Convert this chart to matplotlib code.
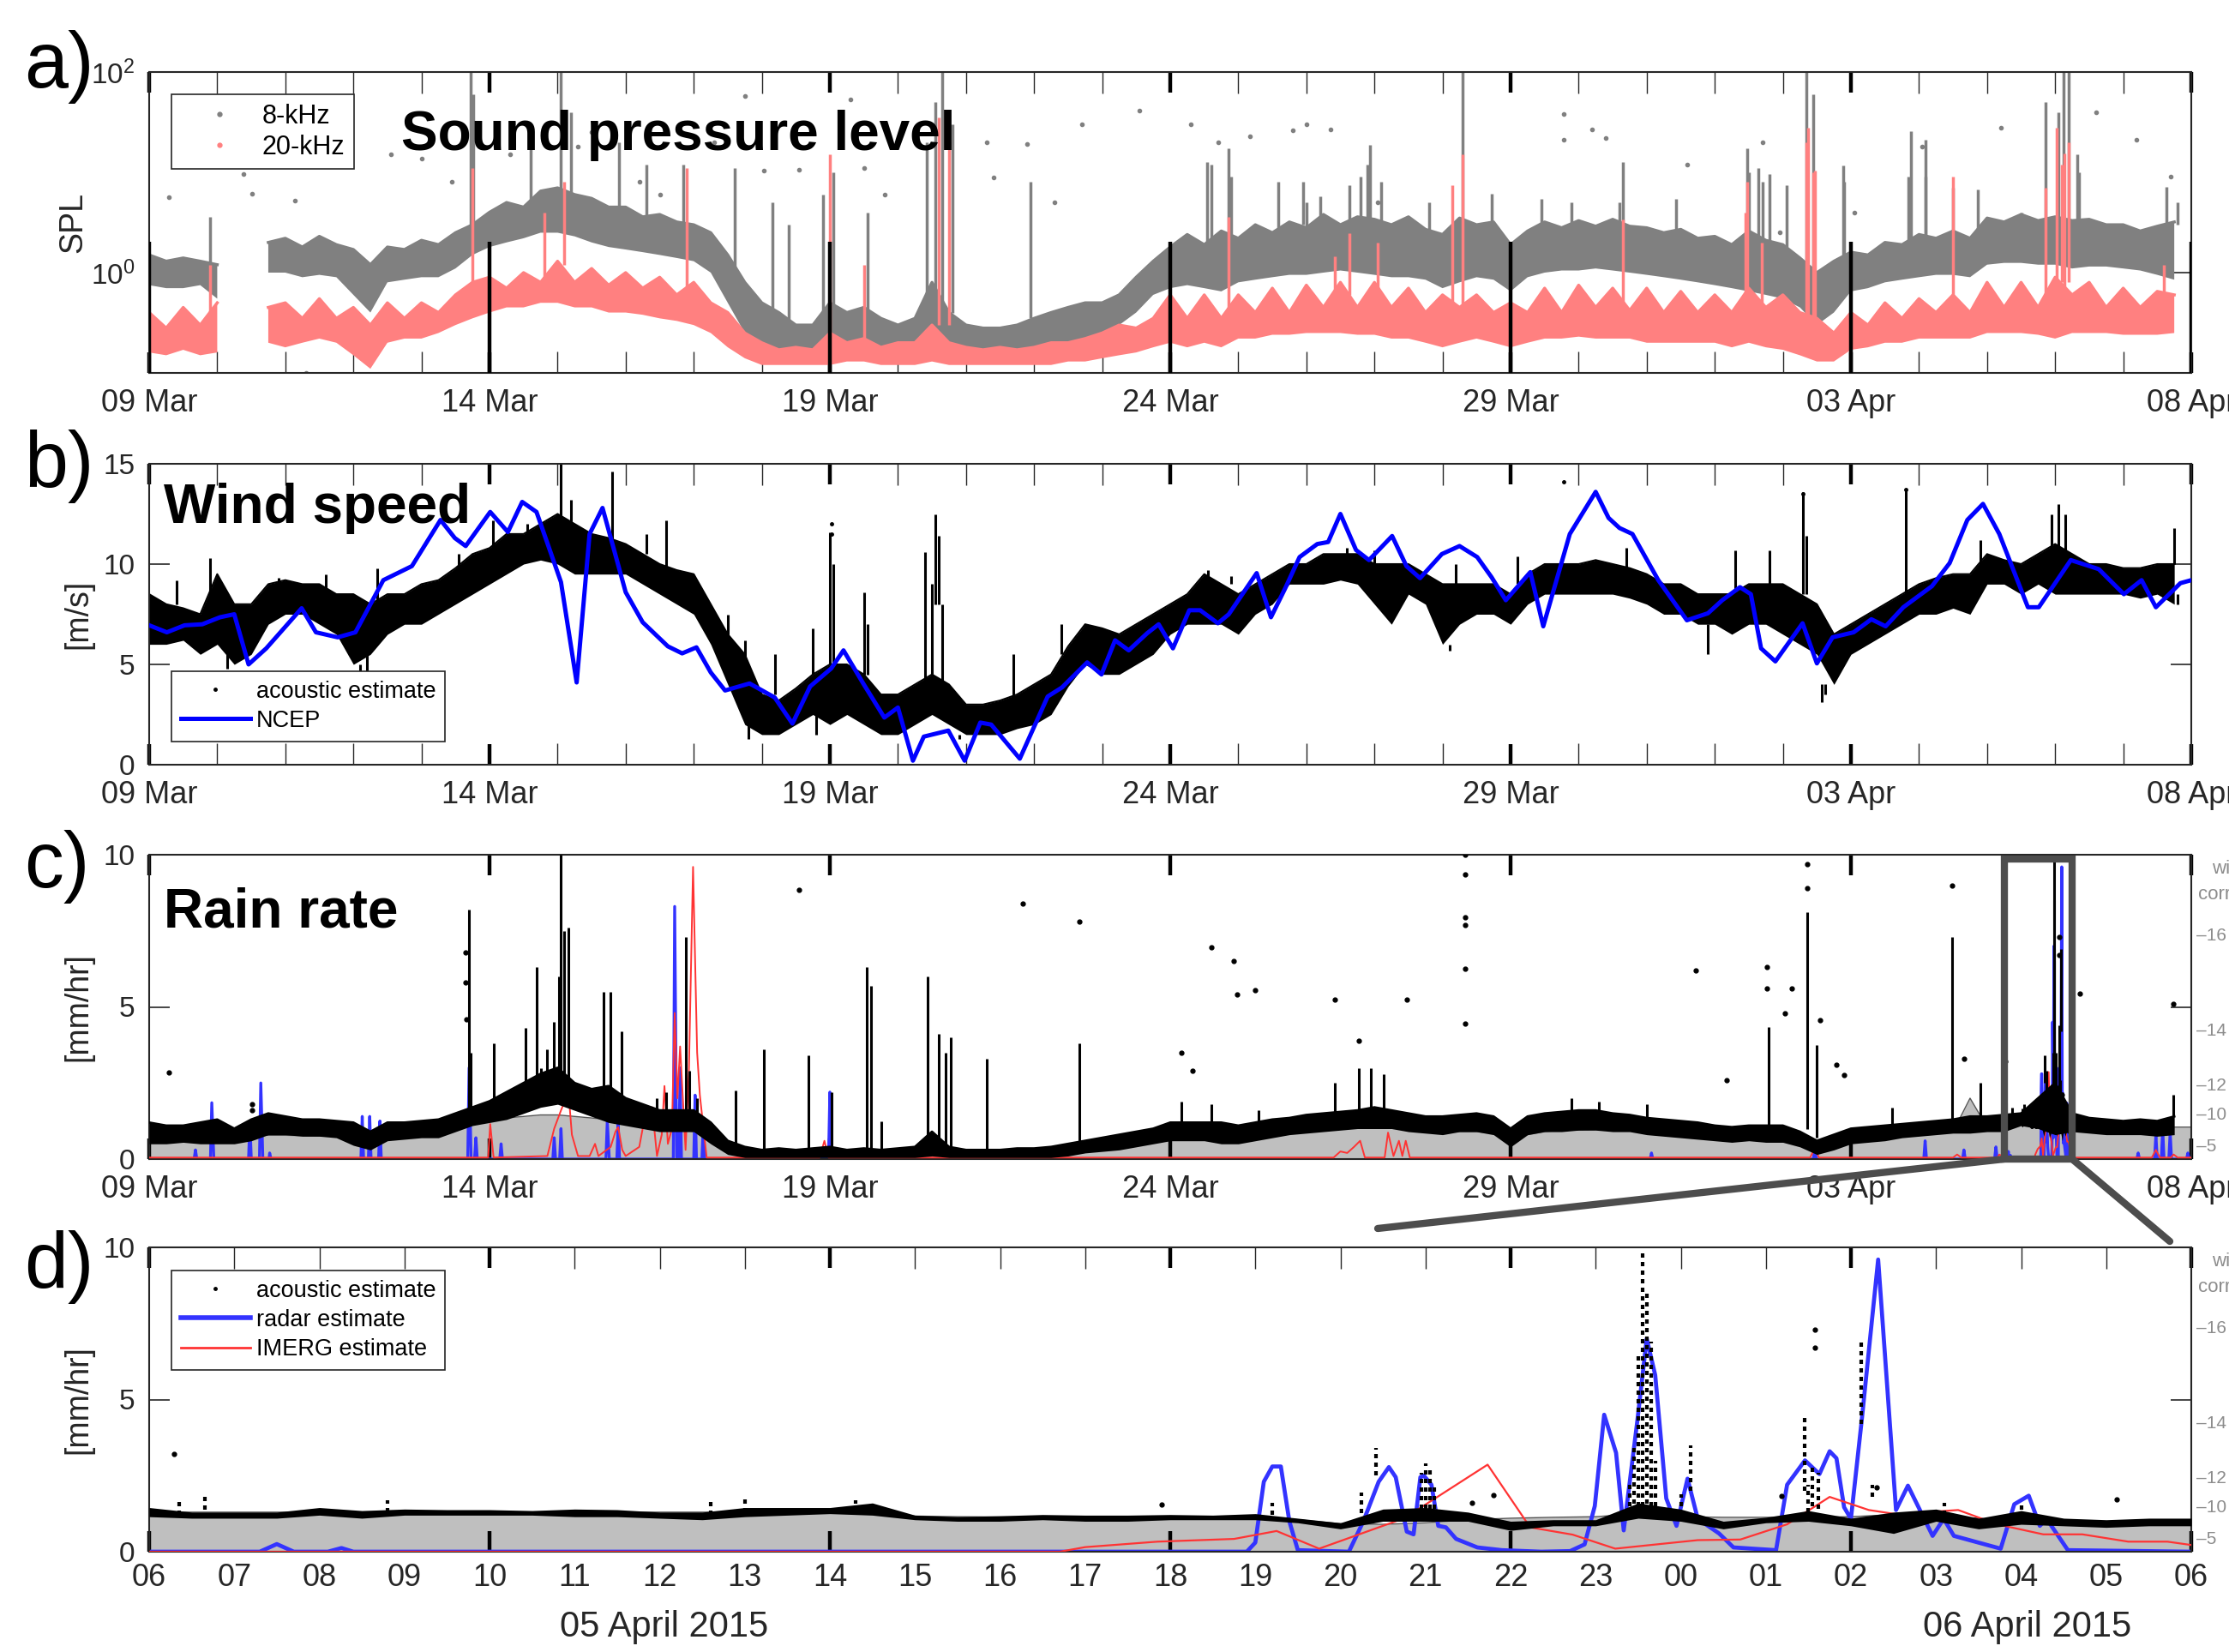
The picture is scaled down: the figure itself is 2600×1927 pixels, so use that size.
import numpy as np
import pandas as pd
import matplotlib
matplotlib.use("Agg")
import matplotlib.pyplot as plt
import matplotlib.dates as mdates
import matplotlib.transforms as mtransforms
from matplotlib.lines import Line2D
from matplotlib.patches import Rectangle, ConnectionPatch
from matplotlib.ticker import FixedLocator, NullLocator

plt.rcParams['font.family'] = ['Liberation Sans', 'DejaVu Sans']
plt.rcParams['mathtext.fontset'] = 'custom'
plt.rcParams['mathtext.rm'] = 'Liberation Sans'
plt.rcParams['mathtext.it'] = 'Liberation Sans:italic'
plt.rcParams['mathtext.bf'] = 'Liberation Sans:bold'

nan = np.nan
T0 = np.datetime64("2015-03-09T00:00")
D0 = np.datetime64("2015-04-05T06:00")


def day_time(d):
    return T0 + (np.asarray(d, dtype=float) * 86400).astype("timedelta64[s]")


def hour_time(h):
    return D0 + (np.asarray(h, dtype=float) * 3600).astype("timedelta64[s]")


# 6-hourly grid 09 Mar - 08 Apr, half-hourly grid for the zoom panel
t6 = pd.date_range("2015-03-09", "2015-04-08", freq="6h").to_numpy()
t30 = pd.date_range("2015-04-05 06:00", "2015-04-06 06:00", freq="30min").to_numpy()

# ======================
# a) sound pressure level (band envelopes, 6-hourly)
# ======================
spl8_lo = [0.75, 0.7, 0.7, 0.75,
           0.55, nan, nan, 1.0,
           1.0, 0.9, 0.95, 0.9,
           0.6, 0.4, 0.8, 0.85,
           0.9, 0.9, 1.1, 1.5,
           1.8, 2.0, 2.2, 2.5,
           2.5, 2.3, 2.0, 1.8,
           1.7, 1.6, 1.5, 1.4,
           1.3, 1.0, 0.5, 0.25,
           0.18, 0.15, 0.13, 0.13,
           0.13, 0.15, 0.15, 0.15,
           0.13, 0.14, 0.2, 0.15,
           0.14, 0.13, 0.13, 0.14,
           0.14, 0.15, 0.15, 0.2,
           0.2, 0.3, 0.4, 0.6,
           0.7, 0.75, 0.7, 0.65,
           0.8, 0.85, 0.9, 0.95,
           0.95, 1.0, 1.05, 1.0,
           0.95, 0.9, 0.9, 0.85,
           0.7, 0.8, 0.9, 0.85,
           0.65, 0.9, 1.0, 1.05,
           1.05, 1.1, 1.05, 1.0,
           0.95, 0.9, 0.85, 0.8,
           0.75, 0.7, 0.65, 0.6,
           0.55, 0.45, 0.3, 0.4,
           0.65, 0.7, 0.8, 0.85,
           0.9, 0.95, 0.95, 0.9,
           1.2, 1.25, 1.25, 1.2,
           1.2, 1.1, 1.15, 1.15,
           1.1, 1.05, 0.95, 0.85,
           nan]
spl8_hi = [1.5, 1.3, 1.4, 1.3,
           1.2, nan, nan, 2.0,
           2.2, 1.8, 2.3, 1.9,
           1.7, 1.2, 1.8, 1.7,
           2.1, 1.9, 2.5, 3.0,
           4.0, 5.0, 4.5, 6.5,
           7.0, 6.0, 5.5, 4.5,
           4.5, 3.6, 3.8, 3.2,
           3.0, 2.5, 1.5, 0.8,
           0.5, 0.4, 0.3, 0.3,
           0.5, 0.4, 0.45, 0.35,
           0.3, 0.35, 0.8, 0.4,
           0.3, 0.28, 0.28, 0.3,
           0.35, 0.4, 0.45, 0.5,
           0.5, 0.6, 0.9, 1.3,
           1.8, 2.4, 1.9, 2.6,
           2.2, 3.0, 2.5, 3.2,
           2.8, 3.8, 3.0, 3.6,
           3.4, 3.0, 3.6, 2.7,
           2.4, 3.5, 3.0, 3.2,
           1.9, 2.6, 3.2, 2.8,
           3.3, 2.9, 3.4, 2.9,
           2.8, 2.5, 2.7, 2.2,
           2.3, 1.9, 2.6, 2.1,
           1.9, 1.4, 1.0, 1.3,
           1.6, 1.5, 2.0, 1.9,
           2.4, 2.2, 2.6, 2.2,
           3.5, 3.2, 3.8, 3.3,
           3.6, 3.3, 3.4, 3.0,
           3.0, 2.6, 2.9, 3.2,
           nan]
spl20_lo = [0.16, 0.15, 0.17, 0.15,
            0.16, nan, nan, 0.2,
            0.18, 0.2, 0.22, 0.2,
            0.15, 0.11, 0.2, 0.22,
            0.22, 0.25, 0.3, 0.35,
            0.4, 0.45, 0.45, 0.5,
            0.5, 0.45, 0.45, 0.4,
            0.4, 0.38, 0.35, 0.33,
            0.3, 0.25, 0.18, 0.14,
            0.12, 0.12, 0.12, 0.12,
            0.12, 0.13, 0.13, 0.12,
            0.12, 0.12, 0.13, 0.12,
            0.12, 0.12, 0.12, 0.12,
            0.12, 0.12, 0.13, 0.13,
            0.14, 0.15, 0.16, 0.18,
            0.2, 0.18, 0.2, 0.18,
            0.22, 0.22, 0.24, 0.24,
            0.25, 0.25, 0.25, 0.24,
            0.24, 0.22, 0.22, 0.2,
            0.18, 0.2, 0.22, 0.2,
            0.18, 0.2, 0.22, 0.22,
            0.23, 0.22, 0.22, 0.22,
            0.2, 0.2, 0.2, 0.2,
            0.2, 0.18, 0.2, 0.18,
            0.17, 0.15, 0.13, 0.13,
            0.17, 0.18, 0.2, 0.2,
            0.22, 0.22, 0.22, 0.22,
            0.25, 0.25, 0.25, 0.24,
            0.22, 0.25, 0.25, 0.25,
            0.24, 0.24, 0.24, 0.25,
            nan]
spl20_hi = [0.4, 0.28, 0.45, 0.3,
            0.5, nan, nan, 0.45,
            0.5, 0.35, 0.55, 0.35,
            0.45, 0.3, 0.5, 0.35,
            0.5, 0.4, 0.6, 0.8,
            0.9, 0.7, 1.0, 0.8,
            1.3, 0.8, 1.1, 0.75,
            1.0, 0.7, 0.9, 0.6,
            0.8, 0.5, 0.4, 0.25,
            0.2, 0.17, 0.18, 0.17,
            0.25, 0.2, 0.22, 0.18,
            0.2, 0.2, 0.3, 0.2,
            0.18, 0.17, 0.18, 0.17,
            0.18, 0.2, 0.2, 0.22,
            0.25, 0.3, 0.28, 0.35,
            0.6, 0.35, 0.6, 0.35,
            0.6, 0.4, 0.7, 0.4,
            0.75, 0.45, 0.8, 0.45,
            0.8, 0.45, 0.7, 0.4,
            0.6, 0.45, 0.6, 0.4,
            0.5, 0.4, 0.7, 0.4,
            0.75, 0.45, 0.7, 0.42,
            0.7, 0.4, 0.65, 0.4,
            0.6, 0.4, 0.7, 0.45,
            0.6, 0.4, 0.35, 0.25,
            0.4, 0.3, 0.5, 0.35,
            0.55, 0.4, 0.6, 0.4,
            0.8, 0.45, 0.8, 0.45,
            0.9, 0.6, 0.8, 0.45,
            0.7, 0.45, 0.65, 0.6,
            nan]

# spikes: day, bottom, top
spl8_spk_d = [0.9, 4.72, 4.76, 5.6, 6.05, 6.2, 6.9, 7.3, 7.85, 8.6, 9.15, 9.4, 9.9, 10.05, 10.55,
              11.42, 11.55, 11.65, 11.8, 12.95, 15.6, 15.9, 17.0, 17.9, 18.1, 18.8, 19.3, 20.9,
              21.6, 23.5, 23.7, 24.35, 24.45, 24.9, 25.85, 26.1, 27.5, 28.05, 28.12, 28.2, 28.35,
              29.8, 15.54, 15.86, 16.59, 16.95, 17.2, 17.63, 17.8, 17.94, 18.47, 19.72, 20.45,
              21.65, 22.43, 23.48, 23.64, 23.8, 24.05, 24.89, 25.88, 26.09, 26.5, 26.87, 27.86,
              28.33, 29.64]
spl8_spk_lo = [1.2, 2.0, 2.0, 4.0, 5.0, 5.0, 4.0, 3.5, 3.0, 0.8, 0.4, 0.3, 0.4, 0.4, 0.4,
               0.4, 0.4, 0.4, 0.4, 0.35, 1.8, 1.9, 2.6, 3.0, 3.0, 2.5, 2.8, 2.8,
               2.8, 2.2, 2.0, 1.0, 1.0, 1.3, 1.9, 2.1, 3.4, 3.3, 3.3, 3.3, 3.0,
               3.0, 2.0, 2.0, 2.5, 3.0, 3.0, 3.0, 3.0, 3.0, 2.8, 2.8, 2.8,
               2.8, 2.5, 2.3, 2.2, 2.0, 1.8, 1.3, 1.9, 2.1, 2.4, 2.2, 3.2,
               3.2, 2.8]
spl8_spk_hi = [3.6, 100, 60, 30, 100, 40, 20, 12, 12, 11, 5, 3, 6, 10, 4,
               20, 50, 100, 30, 8, 12, 9, 5, 12, 8, 5, 100, 5,
               5, 10, 8, 100, 60, 8, 9, 9, 4, 40, 100, 100, 10,
               5, 12.6, 17.5, 8, 8, 5.8, 7.5, 9, 18.7, 3.6, 6.1, 5.4,
               12.6, 5.4, 17.5, 11, 9.7, 7.5, 11.8, 25.8, 21, 7, 6.8, 49.8,
               15, 7.2]
spl20_spk_d = [0.9, 4.75, 5.8, 6.1, 7.9, 10.0, 10.5, 11.6, 11.75, 19.3, 23.45, 24.35, 24.45, 28.1,
               28.2, 15.86, 17.42, 17.63, 18.05, 19.14, 21.65, 23.48, 23.69, 24.37, 24.47, 26.5,
               27.86, 28.02, 28.13, 29.6]
spl20_spk_lo = [0.4, 0.8, 0.8, 1.2, 0.6, 0.2, 0.2, 0.3, 0.3, 0.45, 0.6, 0.35, 0.35, 0.8,
                0.8, 0.4, 0.6, 0.6, 0.5, 0.45, 0.5, 0.5, 0.5, 0.35, 0.35, 0.5,
                0.6, 0.6, 0.6, 0.5]
spl20_spk_hi = [1.2, 11, 4, 8, 11, 15, 1.2, 35, 20, 15, 4, 20, 10, 12,
                20, 3.6, 1.46, 2.46, 2.0, 7.5, 3.4, 8, 2.0, 27.6, 10.4, 9.1,
                7, 27.6, 15.3, 1.2]

# isolated 8-kHz points
spl8_out_d = [0.29, 1.39, 1.51, 2.14, 2.3, 3.55, 4.0, 4.45, 5.3, 6.3, 6.5, 7.2, 7.5, 8.3, 8.75,
              9.03, 9.55, 10.3, 10.5, 10.8, 12.3, 12.4, 12.9, 13.3, 13.7, 14.55, 15.3, 15.7,
              16.17, 16.8, 17.0, 17.35, 18.05, 20.78, 20.78, 21.2, 21.4, 22.6, 23.7, 23.95,
              25.05, 26.05, 27.2, 28.6, 29.2, 29.7]
spl8_out_v = [5.7, 9.6, 6.1, 5.2, 0.1, 15, 13.6, 8, 15, 18, 25, 8, 6, 20, 58,
              10.4, 10.7, 53, 11, 6, 20, 8.8, 19, 5, 30, 41, 30, 20,
              23, 26, 30, 27, 5, 38, 21, 27, 22, 12, 20, 2.5,
              4, 18, 28, 40, 21, 9]

# ======================
# b) wind speed
# ======================
wind_lo = [6.0, 6.0, 6.2, 5.5,
           6.0, 5.0, 5.5, 7.0,
           7.5, 7.5, 7.0, 6.5,
           5.0, 5.5, 6.5, 7.0,
           7.0, 7.5, 8.0, 8.5,
           9.0, 9.5, 10.0, 10.2,
           10.0, 9.5, 9.5, 9.5,
           9.5, 9.0, 8.5, 8.0,
           7.5, 6.0, 4.0, 2.0,
           1.5, 1.5, 2.0, 2.5,
           2.0, 2.5, 2.0, 1.5,
           1.5, 2.0, 2.5, 2.0,
           1.5, 1.5, 1.5, 1.8,
           2.0, 2.5, 3.9, 5.0,
           4.5, 4.5, 5.0, 5.5,
           6.5, 7.0, 7.0, 7.0,
           6.5, 7.5, 8.0, 9.0,
           9.0, 9.0, 9.2, 9.0,
           8.0, 7.0, 8.5, 8.0,
           6.0, 7.0, 7.5, 7.5,
           7.0, 8.0, 8.5, 8.5,
           8.5, 8.5, 8.5, 8.3,
           8.0, 7.5, 7.5, 7.0,
           7.0, 6.5, 7.0, 7.0,
           6.5, 6.0, 5.5, 4.0,
           5.5, 6.0, 6.5, 7.0,
           7.5, 7.5, 7.8, 7.5,
           9.0, 9.0, 8.5, 9.0,
           8.5, 8.5, 8.5, 8.5,
           8.5, 8.3, 8.5, 8.0,
           nan]
wind_hi = [8.5, 8.0, 7.8, 7.5,
           9.5, 8.0, 8.0, 9.0,
           9.2, 9.0, 9.0, 8.5,
           8.5, 8.0, 8.5, 8.5,
           9.0, 9.2, 9.8, 10.5,
           10.8, 11.5, 11.5, 12.0,
           12.5, 12.0, 11.5, 11.3,
           11.0, 10.5, 10.0, 9.7,
           9.5, 8.0, 6.5, 5.5,
           3.5, 3.2, 3.8, 4.5,
           5.0, 5.0, 4.5, 3.5,
           3.5, 4.0, 4.5, 4.0,
           3.0, 3.0, 3.2, 3.5,
           4.0, 4.5, 5.9, 7.0,
           6.8, 6.5, 7.0, 7.5,
           8.0, 8.5, 9.5, 9.0,
           8.5, 9.0, 9.5, 10.0,
           10.0, 10.5, 10.5, 10.5,
           10.0, 10.0, 10.0, 9.5,
           9.0, 9.0, 9.0, 9.0,
           8.5, 9.5, 10.0, 10.0,
           10.0, 10.2, 10.0, 9.8,
           9.5, 9.0, 9.0, 8.5,
           8.5, 8.5, 9.0, 9.0,
           9.0, 8.5, 8.0, 6.5,
           7.0, 7.5, 8.0, 8.5,
           9.0, 9.3, 9.5, 9.5,
           10.5, 10.2, 10.0, 10.5,
           11.0, 10.5, 10.0, 10.0,
           9.8, 9.8, 10.0, 10.0,
           nan]
wind_spk_d = [0.4, 0.9, 1.15, 1.9, 2.6, 3.1, 3.2, 3.35, 4.55, 5.05, 5.55, 6.05, 6.2, 6.8, 7.3,
              7.6, 8.5, 8.75, 8.8, 9.2, 9.75, 9.8, 10.0, 10.05, 10.5, 10.55, 11.4, 11.5, 11.55,
              11.6, 11.65, 11.9, 12.7, 13.4, 15.55, 15.9, 17.6, 18.0, 19.1, 19.2, 20.1, 21.7,
              22.9, 23.3, 23.8, 24.3, 24.35, 24.57, 24.62, 25.8, 26.9, 27.95, 28.05, 28.15,
              29.75, 29.8]
wind_spk_lo = [8.0, 8.0, 4.8, 8.5, 8.5, 3.8, 4.5, 8.0, 9.5, 10.5, 11.0, 12.0, 11.5, 11.0, 10.5,
               9.5, 6.0, 5.0, 1.3, 3.5, 4.5, 1.5, 5.0, 5.0, 4.5, 4.5, 4.0, 3.5, 8.0,
               8.0, 4.0, 1.3, 3.0, 5.5, 9.0, 9.0, 10.0, 10.0, 5.7, 9.0, 9.0, 9.8,
               5.5, 8.5, 9.0, 8.5, 8.5, 3.1, 3.5, 8.5, 9.5, 10.5, 10.5, 10.5,
               10.0, 8.0]
wind_spk_hi = [9.2, 10.3, 6.0, 9.3, 9.5, 5.0, 5.5, 9.8, 10.5, 12.2, 12.0, 15.0, 13.2, 14.6, 11.5,
               12.2, 7.5, 6.2, 2.0, 5.5, 6.8, 2.5, 11.6, 10.0, 8.6, 7.0, 10.6, 9.0, 12.5,
               11.4, 8.0, 1.5, 5.5, 7.0, 9.7, 9.4, 10.8, 10.7, 6.0, 10.0, 10.4, 10.8,
               7.0, 10.7, 10.7, 13.6, 11.4, 4.0, 4.0, 13.7, 11.2, 12.5, 13.0, 12.5,
               11.8, 8.5]
wind_out_d = [10.02, 10.03, 20.78, 25.81, 24.3]
wind_out_v = [11.5, 12.0, 14.1, 13.7, 13.5]

# NCEP reanalysis
ncep_d = [0, 0.26, 0.52, 0.78, 1.04, 1.25, 1.46, 1.72, 2.24, 2.45, 2.77, 3.03, 3.44, 3.86, 4.28,
          4.49, 4.65, 5.01, 5.27, 5.48, 5.69, 6.05, 6.28, 6.47, 6.66, 7.0, 7.25, 7.62, 7.83, 8.04,
          8.25, 8.46, 8.82, 9.19, 9.45, 9.71, 10.02, 10.2, 10.49, 10.8, 11.0, 11.22, 11.38, 11.74,
          11.98, 12.21, 12.37, 12.79, 13.2, 13.41, 13.78, 13.99, 14.19, 14.39, 14.66, 14.83, 15.04,
          15.28, 15.44, 15.7, 15.86, 16.27, 16.48, 16.69, 16.9, 17.16, 17.32, 17.5, 17.73, 17.92,
          18.26, 18.47, 18.67, 18.99, 19.25, 19.51, 19.72, 19.93, 20.29, 20.48, 20.87, 21.25, 21.44,
          21.6, 21.79, 22.17, 22.59, 22.9, 23.11, 23.37, 23.53, 23.68, 23.89, 24.29, 24.5, 24.73,
          25.04, 25.3, 25.51, 25.77, 26.19, 26.45, 26.71, 26.94, 27.18, 27.6, 27.76, 28.23, 28.64,
          29.01, 29.27, 29.48, 29.84, 30.0]
ncep_v = [6.95, 6.6, 6.95, 7.0, 7.35, 7.5, 5.0, 5.8, 7.8, 6.6, 6.35, 6.6, 9.2, 9.9, 12.2,
          11.3, 10.9, 12.6, 11.6, 13.1, 12.6, 9.1, 4.1, 11.5, 12.8, 8.6, 7.1, 5.9, 5.55, 5.85,
          4.6, 3.7, 4.05, 3.35, 2.05, 3.9, 4.8, 5.7, 4.05, 2.35, 2.85, 0.2, 1.4, 1.7,
          0.2, 2.1, 2.0, 0.3, 3.4, 3.85, 5.1, 4.5, 6.2, 5.7, 6.55, 7.0, 5.8,
          7.7, 7.7, 7.05, 7.5, 9.55, 7.35, 8.8, 10.35, 11.0, 11.1, 12.5, 10.7, 10.2,
          11.4, 9.9, 9.3, 10.5, 10.9, 10.35, 9.35, 8.2, 9.6, 6.9, 11.5, 13.6, 12.3,
          11.8, 11.5, 9.2, 7.2, 7.55, 8.2, 8.85, 8.5, 5.8, 5.15, 7.05, 5.05, 6.35,
          6.6, 7.25, 6.9, 7.85, 8.9, 10.05, 12.2, 13.0, 11.5, 7.85, 7.85, 10.2, 9.75,
          8.5, 9.2, 7.85, 9.05, 9.2]

# ======================
# c) rain rate, whole deployment
# ======================
rain_lo = [0.5, 0.5, 0.55, 0.5,
           0.5, 0.5, 0.6, 0.8,
           0.8, 0.75, 0.75, 0.7,
           0.45, 0.3, 0.6, 0.65,
           0.7, 0.7, 0.9, 1.1,
           1.2, 1.3, 1.5, 1.7,
           1.8, 1.6, 1.4, 1.2,
           1.1, 1.0, 0.9, 0.9,
           0.9, 0.5, 0.15, 0.05,
           0.05, 0.05, 0.05, 0.05,
           0.05, 0.05, 0.05, 0.05,
           0.05, 0.05, 0.1, 0.05,
           0.05, 0.05, 0.05, 0.05,
           0.05, 0.05, 0.1, 0.2,
           0.25, 0.3, 0.4, 0.5,
           0.6, 0.6, 0.6, 0.5,
           0.5, 0.6, 0.7, 0.8,
           0.85, 0.9, 0.95, 1.0,
           1.0, 1.0, 0.9, 0.85,
           0.8, 0.9, 0.9, 0.8,
           0.4, 0.8, 0.9, 0.9,
           0.95, 0.95, 0.9, 0.9,
           0.8, 0.75, 0.7, 0.65,
           0.6, 0.55, 0.6, 0.55,
           0.55, 0.4, 0.15, 0.3,
           0.5, 0.55, 0.6, 0.7,
           0.75, 0.8, 0.85, 0.85,
           0.9, 0.9, 1.1, 1.0,
           0.8, 0.9, 0.85, 0.8,
           0.8, 0.8, 0.75, 0.8,
           nan]
rain_hi = [1.2, 1.1, 1.1, 1.2,
           1.3, 1.0, 1.3, 1.5,
           1.4, 1.3, 1.3, 1.25,
           1.2, 0.9, 1.2, 1.2,
           1.25, 1.3, 1.5, 1.7,
           1.9, 2.2, 2.5, 2.8,
           3.0, 2.5, 2.3, 2.4,
           2.0, 1.8, 1.6, 1.6,
           1.6, 1.2, 0.6, 0.4,
           0.3, 0.35, 0.3, 0.35,
           0.4, 0.3, 0.35, 0.3,
           0.35, 0.4, 0.9, 0.4,
           0.3, 0.3, 0.3, 0.35,
           0.35, 0.4, 0.5, 0.6,
           0.7, 0.8, 0.9, 1.0,
           1.2, 1.2, 1.2, 1.2,
           1.1, 1.2, 1.3, 1.35,
           1.45, 1.5, 1.55, 1.6,
           1.7, 1.6, 1.5, 1.4,
           1.4, 1.45, 1.5, 1.4,
           1.0, 1.4, 1.5, 1.55,
           1.6, 1.6, 1.5, 1.45,
           1.35, 1.3, 1.25, 1.2,
           1.1, 1.05, 1.1, 1.1,
           1.1, 0.9, 0.6, 0.8,
           1.0, 1.05, 1.1, 1.15,
           1.2, 1.25, 1.3, 1.4,
           1.4, 1.45, 1.5, 2.0,
           2.5, 1.5, 1.35, 1.3,
           1.25, 1.3, 1.25, 1.4,
           nan]
# wind-dependent detection floor (grey area)
thr_c = [0.9, 0.88, 0.86, 0.85,
         0.85, 0.82, 0.8, 0.78,
         0.78, 0.77, 0.76, 0.75,
         0.75, 0.74, 0.74, 0.75,
         0.8, 0.9, 1.0, 1.15,
         1.25, 1.35, 1.4, 1.45,
         1.45, 1.4, 1.35, 1.3,
         1.25, 1.2, 1.1, 1.0,
         0.9, 0.6, 0.3, 0.1,
         0.05, 0.05, 0.05, 0.05,
         0.05, 0.05, 0.05, 0.05,
         0.05, 0.05, 0.05, 0.05,
         0.05, 0.05, 0.05, 0.05,
         0.08, 0.12, 0.18, 0.25,
         0.3, 0.4, 0.5, 0.6,
         0.7, 0.72, 0.72, 0.7,
         0.7, 0.75, 0.8, 0.88,
         0.95, 1.0, 1.05, 1.05,
         1.05, 1.05, 1.0, 1.4,
         0.95, 0.9, 0.9, 0.85,
         0.7, 0.8, 0.9, 0.95,
         0.95, 0.97, 0.95, 0.92,
         0.9, 0.87, 0.85, 0.82,
         0.8, 0.78, 0.78, 0.78,
         0.75, 0.6, 0.3, 0.45,
         0.6, 0.65, 0.7, 0.75,
         0.8, 0.85, 0.9, 2.0,
         1.05, 1.15, 1.3, 1.3,
         1.1, 1.05, 1.05, 1.05,
         1.05, 1.05, 1.05, 1.05,
         1.05]
rain_col_d = [4.70, 4.72, 5.06, 5.53, 5.69, 5.75, 5.85, 5.95, 6.02, 6.05, 6.09, 6.16, 6.68, 6.78,
              6.94, 7.45, 7.6, 7.88, 7.93, 8.05, 8.61, 9.03, 9.69, 10.02, 10.54, 10.6, 10.75,
              11.43, 11.6, 11.7, 11.78, 12.3, 13.67, 15.16, 15.6, 16.3, 17.42, 17.77, 17.95,
              18.13, 20.9, 21.3, 22.0, 23.79, 24.36, 24.49, 25.6, 26.48, 26.9, 29.74]
rain_col_lo = [1.2, 1.2, 1.5, 2.0, 2.2, 2.3, 2.4, 2.5, 2.5, 2.5, 2.5, 2.4, 2.0, 2.0,
               1.8, 1.5, 1.5, 1.5, 1.4, 1.2, 0.3, 0.3, 0.3, 0.3, 0.3, 0.3, 0.3,
               0.4, 0.4, 0.4, 0.4, 0.3, 0.5, 1.2, 1.2, 1.2, 1.5, 1.5, 1.6,
               1.6, 1.5, 1.5, 1.3, 1.1, 1.0, 0.7, 1.1, 1.3, 1.3, 1.4]
rain_col_hi = [8.2, 3.5, 3.8, 4.3, 6.3, 3.0, 3.6, 4.5, 6.0, 10.0, 7.5, 7.6, 5.5, 5.5,
               4.2, 2.0, 2.2, 7.3, 2.9, 2.0, 2.25, 3.6, 3.4, 2.2, 6.3, 5.7, 1.25,
               6.0, 4.1, 3.5, 4.0, 3.3, 3.8, 1.9, 1.8, 1.6, 2.5, 3.0, 3.0,
               2.8, 2.0, 1.9, 1.8, 4.35, 8.1, 3.75, 1.7, 7.3, 2.5, 2.1]
rain_out_d = [0.29, 1.51, 1.51, 4.65, 4.65, 4.66, 9.55, 12.84, 13.67, 15.16, 15.33, 15.6, 15.93,
              15.98, 16.25, 17.42, 17.77, 18.47, 19.33, 19.33, 19.33, 19.33, 19.33, 19.33, 22.72,
              23.18, 23.77, 23.77, 24.03, 24.13, 24.36, 24.36, 24.55, 24.78, 24.9, 26.48, 26.66,
              28.36, 29.74]
rain_out_v = [2.85, 1.8, 1.6, 6.8, 5.8, 4.6, 8.85, 8.4, 7.8, 3.5, 2.9, 6.95, 6.5,
              5.4, 5.55, 5.25, 3.9, 5.25, 10.0, 9.35, 7.95, 7.7, 6.25, 4.45, 6.2,
              2.6, 6.3, 5.6, 4.8, 5.6, 9.7, 8.9, 4.55, 3.1, 2.75, 9.0, 3.3,
              5.45, 5.1]
radar_c_d = [0.0, 0.66, 0.68, 0.70, 0.90, 0.92, 0.95, 1.46, 1.48, 1.50, 1.62, 1.64, 1.67, 1.76,
             1.77, 1.79, 3.11, 3.13, 3.15, 3.22, 3.24, 3.26, 3.37, 3.39, 3.41, 4.68, 4.70, 4.73,
             4.78, 4.80, 4.82, 5.15, 5.17, 5.19, 5.93, 5.95, 5.97, 6.03, 6.05, 6.07, 6.71, 6.73,
             6.76, 6.87, 6.89, 6.91, 7.70, 7.72, 7.75, 7.78, 7.80, 7.82, 8.00, 8.02, 8.04, 8.12,
             8.14, 8.16, 9.98, 10.0, 10.02, 16.0, 16.01, 20.55, 22.05, 22.07, 22.09, 24.45, 24.47,
             24.49, 26.07, 26.09, 26.11, 26.64, 26.66, 26.68, 27.11, 27.13, 27.15, 27.25]
radar_c_v = [0, 0, 0.3, 0, 0, 1.85, 0, 0, 1.25, 0, 0, 2.5, 0, 0,
             0.2, 0, 0, 1.4, 0, 0, 1.4, 0, 0, 1.25, 0, 0, 3.0, 0,
             0, 0.7, 0, 0, 0.5, 0, 0, 0.7, 0, 0, 1.0, 0, 0, 1.25,
             0, 0, 1.15, 0, 0, 8.3, 0, 0, 3.0, 0, 0, 2.1, 0, 0,
             1.15, 0, 0, 2.2, 0, 0, nan, 0, 0, 0.2, 0, 0, 0.4,
             0, 0, 0.6, 0, 0, 0.3, 0, 0, 0.4, 0, 0]
radar_c2_d = [28.25, 29.20, 29.22, 29.24, 29.46, 29.48, 29.50, 29.56, 29.58, 29.60, 29.67, 29.69,
              29.71, 29.93, 29.95, 29.97, 30.0]
radar_c2_v = [0, 0, 0.2, 0, 0, 0.8, 0, 0, 1.0, 0, 0, 0.9, 0, 0, 0.2, 0, 0]
imerg_c_d = [0.0, 4.98, 5.01, 5.06, 5.85, 5.95, 6.05, 6.16, 6.21, 6.3, 6.47, 6.55, 6.6, 6.78, 6.85,
             6.89, 6.95, 7.0, 7.2, 7.3, 7.39, 7.46, 7.53, 7.57, 7.62, 7.68, 7.72, 7.76, 7.8, 7.88,
             7.93, 7.99, 8.05, 8.09, 8.19, 9.85, 9.92, 9.98, 17.4, 17.5, 17.6, 17.7, 17.79, 17.86,
             18.15, 18.2, 18.28, 18.36, 18.41, 18.46, 18.52, 24.4, 24.47, 24.53, 26.5, 26.56,
             26.62, 27.15, 27.18, 27.25]
imerg_c_v = [0.05, 0.05, 1.15, 0.05, 0.1, 1.0, 1.6, 2.2, 0.8, 0.1, 0.1, 0.5, 0.1, 0.4, 0.9,
             1.05, 0.3, 0.1, 0.4, 1.6, 1.7, 0.1, 0.8, 2.4, 0.5, 1.0, 4.8, 2.0, 3.7, 0.3,
             3.0, 9.6, 3.5, 2.1, 0.05, 0.05, 0.6, 0.05, 0.05, 0.25, 0.2, 0.4, 0.6, 0.05,
             0.05, 0.87, 0.1, 0.6, 0.1, 0.6, 0.05, 0.05, 0.35, 0.05, 0.05, 0.15,
             0.05, 0.05, 0.15, 0.05]
imerg_c2_d = [28.25, 29.42, 29.48, 29.54, 29.7, 29.74, 29.8, 30.0]
imerg_c2_v = [0.05, 0.05, 0.3, 0.05, 0.05, 0.15, 0.05, 0.05]

# ======================
# d) 05-06 April zoom (hours after 05 Apr 06:00)
# ======================
acd_lo = [1.15, 1.1, 1.1, 1.1, 1.2, 1.1, 1.2, 1.2, 1.2, 1.2, 1.15, 1.15, 1.1, 1.05, 1.15, 1.2,
          1.25, 1.2, 1.05, 1.0, 1.0, 1.05, 1.0, 1.0, 1.05, 1.05, 1.05, 0.95, 0.75, 1.0, 1.0, 1.0,
          0.7, 0.85, 0.85, 1.1, 1.0, 0.75, 0.95, 1.0, 0.85, 0.6, 1.0, 0.75, 0.9, 0.85, 0.8, 0.85,
          0.85]
acd_hi = [1.45, 1.3, 1.3, 1.3, 1.45, 1.35, 1.4, 1.38, 1.38, 1.35, 1.4, 1.38, 1.3, 1.3, 1.45, 1.45,
          1.45, 1.6, 1.2, 1.15, 1.18, 1.22, 1.2, 1.2, 1.22, 1.2, 1.25, 1.1, 0.95, 1.4, 1.45, 1.3,
          1.0, 1.05, 1.05, 1.6, 1.4, 1.0, 1.13, 1.35, 1.1, 1.3, 1.4, 1.1, 1.35, 1.1, 1.05, 1.1,
          1.1]
thr_d = [1.3, 1.3, 1.3, 1.3, 1.3, 1.3, 1.31, 1.31, 1.3, 1.3, 1.3, 1.3, 1.3, 1.3, 1.3, 1.3,
         1.3, 1.25, 1.17, 1.15, 1.14, 1.13, 1.13, 1.13, 1.13, 1.12, 1.12, 1.05, 0.92, 0.9, 0.95,
         1.05, 1.1, 1.13, 1.15, 1.25, 1.15, 1.13, 1.13, 1.13, 1.15, 1.22, 1.15, 1.1, 0.97, 0.95,
         0.95, 0.95, 0.95]
acd_col_h = [0.35, 0.65, 2.8, 6.6, 7.0, 8.3, 13.2, 14.25, 14.42, 14.95, 15.0, 15.05, 15.1, 17.4,
             17.45, 17.5, 17.55, 17.6, 17.65, 17.7, 18.0, 18.12, 19.46, 19.5, 19.55, 19.62, 20.12,
             20.25, 21.1, 22.0]
acd_col_lo = [1.2, 1.1, 1.3, 1.2, 1.3, 1.3, 1.2, 1.0, 2.5, 1.4, 1.4, 1.4, 1.4, 1.2,
              1.3, 1.5, 1.5, 1.3, 1.2, 1.2, 1.2, 2.0, 2.0, 1.3, 1.5, 1.4, 4.2,
              1.8, 1.2, 1.1]
acd_col_hi = [1.7, 1.83, 1.7, 1.65, 1.8, 1.7, 1.6, 1.93, 3.4, 2.6, 2.9, 2.7, 2.2, 2.2,
              3.5, 6.5, 9.8, 8.5, 6.9, 3.0, 1.9, 3.5, 4.4, 2.2, 2.8, 2.6, 6.9,
              2.2, 1.6, 1.6]
acd_out_h = [0.29, 11.9, 15.55, 15.8, 19.18, 19.58, 19.58, 20.3, 23.12]
acd_out_v = [3.2, 1.55, 1.6, 1.85, 1.83, 7.3, 6.7, 2.1, 1.73]
radar_d_h = [0, 1.3, 1.5, 1.7, 2.1, 2.26, 2.4, 12.9, 13.0, 13.1, 13.2, 13.3, 13.4, 13.5, 14.1,
             14.27, 14.45, 14.57, 14.65, 14.78, 14.86, 14.94, 14.98, 15.07, 15.15, 15.24, 15.36,
             15.61, 15.9, 16.36, 16.7, 16.87, 16.99, 17.1, 17.24, 17.33, 17.49, 17.6, 17.7, 17.83,
             17.95, 18.08, 18.2, 18.45, 18.62, 19.12, 19.25, 19.46, 19.63, 19.75, 19.83, 19.92,
             20.0, 20.13, 20.32, 20.53, 20.67, 20.96, 21.09, 21.21, 21.76, 21.92, 22.09, 22.22,
             22.3, 22.55, 24.0]
radar_d_v = [0, 0, 0.25, 0, 0, 0.12, 0, 0, 0.3, 2.3, 2.8, 2.8, 1.0, 0.05, 0,
             1.0, 2.3, 2.78, 2.45, 0.66, 0.57, 2.45, 2.5, 2.2, 0.85, 0.8, 0.42,
             0.14, 0.05, 0, 0.02, 0.24, 1.5, 4.5, 3.25, 0.7, 4.3, 7.0, 5.8, 1.75,
             0.85, 2.4, 1.08, 0.6, 0.14, 0.05, 2.2, 3.0, 2.55, 3.3, 3.07, 1.46,
             1.08, 4.4, 9.6, 1.37, 2.17, 0.52, 1.08, 0.52, 0.1, 1.56, 1.84, 0.85,
             1.08, 0.05, 0]
imerg_d_h = [0, 10.7, 11.0, 11.85, 12.75, 13.25, 13.75, 14.75, 15.73, 16.23, 16.73, 17.23, 18.2,
             18.7, 19.25, 19.75, 20.21, 20.54, 21.26, 21.72, 22.26, 22.72, 23.26, 23.72, 24.0]
imerg_d_v = [0, 0, 0.15, 0.33, 0.42, 0.68, 0.1, 1.1, 2.86, 0.8, 0.56, 0.1, 0.38,
             0.4, 0.9, 1.8, 1.37, 1.23, 1.37, 0.9, 0.57, 0.57, 0.33, 0.33, 0.22]

# right-hand labels (wind speed mapped onto the detection floor)
wind_lbl = ['–5', '–10', '–12', '–14', '–16']
wind_pos = [0.42, 1.45, 2.4, 4.2, 7.35]

# ======================
# Figure
# ======================
W, H = 2600, 1927
fig = plt.figure(figsize=(W / 100, H / 100), dpi=100)


def box(top, bottom, left=174, right=2556):
    return [left / W, 1 - bottom / H, (right - left) / W, (bottom - top) / H]


ax_a = fig.add_axes(box(84, 435))
ax_b = fig.add_axes(box(541, 892))
ax_c = fig.add_axes(box(997, 1352))
ax_d = fig.add_axes(box(1455, 1810))

TXT = '#262626'
GRAY8 = (0.5, 0.5, 0.5)
PINK = (1.0, 0.5, 0.5)
BLUE_N = (0.0, 0.0, 1.0)
BLUE_R = (0.2, 0.2, 1.0)
RED_I = (1.0, 0.2, 0.2)
FILL = (0.75, 0.75, 0.75)
major_days = day_time([0, 5, 10, 15, 20, 25, 30])


def style(ax, xlab=26, xpad=13):
    for s in ax.spines.values():
        s.set_linewidth(1.5)
        s.set_color(TXT)
    ax.tick_params(axis='y', which='major', direction='in', length=17, width=1.2, right=True,
                   labelsize=24, pad=12, color=TXT, labelcolor=TXT)
    ax.tick_params(axis='x', which='major', direction='in', length=17, width=3.2, top=True,
                   labelsize=xlab, pad=xpad, color='black', labelcolor=TXT)
    ax.tick_params(axis='x', which='minor', direction='in', length=18, width=1.0, top=True,
                   color=TXT)


def date_axis(ax, minor=True):
    ax.set_xlim(day_time(0), day_time(30))
    ax.xaxis.set_major_locator(FixedLocator(mdates.date2num(major_days)))
    ax.xaxis.set_major_formatter(mdates.DateFormatter('%d %b'))
    if minor:
        ax.xaxis.set_minor_locator(mdates.DayLocator())
    else:
        ax.xaxis.set_minor_locator(NullLocator())


# ---------- a) ----------
ax_a.set_yscale('log')
ax_a.fill_between(t6, spl8_lo, spl8_hi, color=GRAY8, lw=0, zorder=2)
ax_a.plot(t6, spl8_hi, color=GRAY8, lw=2.5, zorder=2)
ax_a.vlines(day_time(spl8_spk_d), spl8_spk_lo, spl8_spk_hi, color=GRAY8, lw=2.5, zorder=2)
ax_a.plot(day_time(spl8_out_d), spl8_out_v, ls='none', marker='o', ms=3, color=GRAY8, zorder=2)
ax_a.fill_between(t6, spl20_lo, spl20_hi, color=PINK, lw=0, zorder=3)
ax_a.plot(t6, spl20_hi, color=PINK, lw=2.5, zorder=3)
ax_a.vlines(day_time(spl20_spk_d), spl20_spk_lo, spl20_spk_hi, color=PINK, lw=2.5, zorder=3)
ax_a.set_ylim(0.1, 100)
date_axis(ax_a)
ax_a.yaxis.set_major_locator(FixedLocator([1, 100]))
ax_a.yaxis.set_minor_locator(NullLocator())
ax_a.set_yticklabels([r'$10^{0}$', r'$10^{2}$'])
style(ax_a)
# long bottom ticks of the log axis
ax_a.vlines(major_days, 0, 0.436, transform=ax_a.get_xaxis_transform(), colors='black',
            lw=3.2, zorder=6)
leg = ax_a.legend(handles=[Line2D([], [], ls='none', marker='o', ms=3.5, color=GRAY8, label='8-kHz'),
                           Line2D([], [], ls='none', marker='o', ms=3.5, color=PINK, label='20-kHz')],
                  loc='upper left', bbox_to_anchor=(0.0109, 0.926), borderaxespad=0, fontsize=22,
                  fancybox=False, edgecolor=TXT, framealpha=1, handlelength=3.0,
                  handletextpad=0.1, borderpad=0.35, labelspacing=0.2)
leg.get_frame().set_linewidth(1.2)

# ---------- b) ----------
ax_b.fill_between(t6, wind_lo, wind_hi, color='black', lw=0, zorder=2)
ax_b.plot(t6, wind_hi, color='black', lw=1.5, zorder=2)
ax_b.vlines(day_time(wind_spk_d), wind_spk_lo, wind_spk_hi, color='black', lw=2.2, zorder=2)
ax_b.plot(day_time(wind_out_d), wind_out_v, ls='none', marker='o', ms=2.5, color='black', zorder=2)
ax_b.plot(day_time(ncep_d), ncep_v, color=BLUE_N, lw=3.6, zorder=4)
ax_b.set_ylim(0, 15)
ax_b.set_yticks([0, 5, 10, 15])
date_axis(ax_b)
style(ax_b)
leg = ax_b.legend(handles=[Line2D([], [], ls='none', marker='o', ms=2.5, color='black',
                                  label='acoustic estimate'),
                           Line2D([], [], color=BLUE_N, lw=3.6, label='NCEP')],
                  loc='upper left', bbox_to_anchor=(0.0109, 0.3105), borderaxespad=0,
                  fontsize=19.5, fancybox=False, edgecolor=TXT, framealpha=1, handlelength=3.0,
                  handletextpad=0.25, borderpad=0.4, labelspacing=0.3)
leg.get_frame().set_linewidth(1.2)


# ---------- c) and d) shared drawing ----------
def right_labels(ax):
    tr = mtransforms.blended_transform_factory(ax.transAxes, ax.transData)
    for p, l in zip(wind_pos, wind_lbl):
        ax.text(1.0025, p, l, transform=tr, color='#8c8c8c', fontsize=15, va='center',
                ha='left', clip_on=False)
    ax.text(1.0101, 0.953, 'wind', transform=ax.transAxes, color='#8c8c8c', fontsize=16,
            va='center', ha='left', clip_on=False)
    ax.text(1.0034, 0.868, 'correction', transform=ax.transAxes, color='#8c8c8c', fontsize=16,
            va='center', ha='left', clip_on=False)


ax_c.fill_between(t6, 0, thr_c, color=FILL, lw=0, zorder=1)
ax_c.plot(t6, thr_c, color='#555555', lw=1.0, zorder=1.2)
ax_c.plot(day_time(radar_c_d), radar_c_v, color=BLUE_R, lw=2.4, zorder=2)
ax_c.plot(day_time(radar_c2_d), radar_c2_v, color=BLUE_R, lw=2.4, zorder=2)
ax_c.plot(hour_time(radar_d_h), radar_d_v, color=BLUE_R, lw=2.4, zorder=2)
ax_c.plot(day_time(imerg_c_d), imerg_c_v, color=RED_I, lw=1.4, zorder=3)
ax_c.plot(day_time(imerg_c2_d), imerg_c2_v, color=RED_I, lw=1.4, zorder=3)
ax_c.plot(hour_time(imerg_d_h), imerg_d_v, color=RED_I, lw=1.4, zorder=3)
ax_c.fill_between(t6, rain_lo, rain_hi, color='black', lw=0, zorder=4)
ax_c.plot(t6, rain_hi, color='black', lw=2.0, zorder=4)
ax_c.fill_between(t30, acd_lo, acd_hi, color='black', lw=0, zorder=4)
ax_c.vlines(day_time(rain_col_d), rain_col_lo, rain_col_hi, color='black', lw=2.2, zorder=4)
ax_c.vlines(hour_time(acd_col_h), acd_col_lo, acd_col_hi, color='black', lw=2.2, zorder=4)
ax_c.plot(day_time(rain_out_d), rain_out_v, ls='none', marker='o', ms=3.5, color='black', zorder=4)
ax_c.plot(hour_time(acd_out_h), acd_out_v, ls='none', marker='o', ms=3.5, color='black', zorder=4)
ax_c.set_ylim(0, 10)
ax_c.set_yticks([0, 5, 10])
date_axis(ax_c, minor=False)
style(ax_c)
right_labels(ax_c)

# zoom box and connectors
x0 = mdates.date2num(D0)
ax_c.add_patch(Rectangle((x0, 0.0), 1.0, 9.85, fill=False, ec='#4d4d4d', lw=6, zorder=7,
                         clip_on=False))
for xa, xb, yb in [(x0, 0.6016, 1.062), (x0 + 1.0, 0.9895, 1.0197)]:
    con = ConnectionPatch(xyA=(xa, 0.0), coordsA=ax_c.transData, xyB=(xb, yb),
                          coordsB=ax_d.transAxes, color='#4d4d4d', lw=6)
    fig.add_artist(con)

# ---------- d) ----------
ax_d.fill_between(t30, 0, thr_d, color=FILL, lw=0, zorder=1)
ax_d.plot(t30, thr_d, color='#555555', lw=1.0, zorder=1.2)
ax_d.plot(hour_time(radar_d_h), radar_d_v, color=BLUE_R, lw=3.4, zorder=2)
ax_d.plot(hour_time(imerg_d_h), imerg_d_v, color=RED_I, lw=1.6, zorder=3)
ax_d.fill_between(t30, acd_lo, acd_hi, color='black', lw=0, zorder=4)
ax_d.vlines(hour_time(acd_col_h), acd_col_lo, acd_col_hi, color='black', lw=3.0,
            linestyles=(0, (1.2, 1.2)), zorder=4)
ax_d.plot(hour_time(acd_out_h), acd_out_v, ls='none', marker='o', ms=3.5, color='black', zorder=4)
ax_d.set_xlim(hour_time(0), hour_time(24))
ax_d.set_ylim(0, 10)
ax_d.set_yticks([0, 5, 10])
ax_d.xaxis.set_major_locator(mdates.HourLocator(byhour=[2, 6, 10, 14, 18, 22]))
ax_d.xaxis.set_minor_locator(mdates.HourLocator())
ax_d.xaxis.set_major_formatter(mdates.DateFormatter('%H'))
ax_d.xaxis.set_minor_formatter(mdates.DateFormatter('%H'))
style(ax_d, xlab=26, xpad=9)
ax_d.tick_params(axis='x', which='minor', bottom=False, top=True, labelbottom=True,
                 labelsize=26, pad=9, labelcolor=TXT)
right_labels(ax_d)
leg = ax_d.legend(handles=[Line2D([], [], ls='none', marker='o', ms=2.5, color='black',
                                  label='acoustic estimate'),
                           Line2D([], [], color=BLUE_R, lw=4, label='radar estimate'),
                           Line2D([], [], color=RED_I, lw=2, label='IMERG estimate')],
                  loc='upper left', bbox_to_anchor=(0.0109, 0.924), borderaxespad=0,
                  fontsize=19.5, fancybox=False, edgecolor=TXT, framealpha=1, handlelength=3.0,
                  handletextpad=0.25, borderpad=0.4, labelspacing=0.3)
leg.get_frame().set_linewidth(1.2)

# ======================
# Texts
# ======================
for lab, yb in [('a)', 102), ('b)', 568), ('c)', 1035), ('d)', 1502)]:
    fig.text(28 / W, 1 - yb / H, lab, fontsize=66, va='baseline', ha='left', color='black')

fig.text(468 / W, 1 - 175 / H, 'Sound pressure level', fontsize=46, fontweight='bold',
         va='baseline', ha='left', zorder=10)
fig.text(191 / W, 1 - 610 / H, 'Wind speed', fontsize=46, fontweight='bold',
         va='baseline', ha='left', zorder=10)
fig.text(191 / W, 1 - 1082 / H, 'Rain rate', fontsize=46, fontweight='bold',
         va='baseline', ha='left', zorder=10)

for lab, yc in [('SPL', 259.5), ('[m/s]', 716.5), ('[mm/hr]', 1174.5), ('[mm/hr]', 1632.5)]:
    fig.text((85 if lab == 'SPL' else 91) / W, 1 - yc / H, lab, fontsize=27, rotation=90,
             va='center', ha='center', color=TXT)

fig.text(775 / W, 1 - 1898 / H, '05 April 2015', fontsize=30, va='center', ha='center', color=TXT)
fig.text(2365 / W, 1 - 1898 / H, '06 April 2015', fontsize=30, va='center', ha='center', color=TXT)

fig.savefig('out.png', dpi=100)
